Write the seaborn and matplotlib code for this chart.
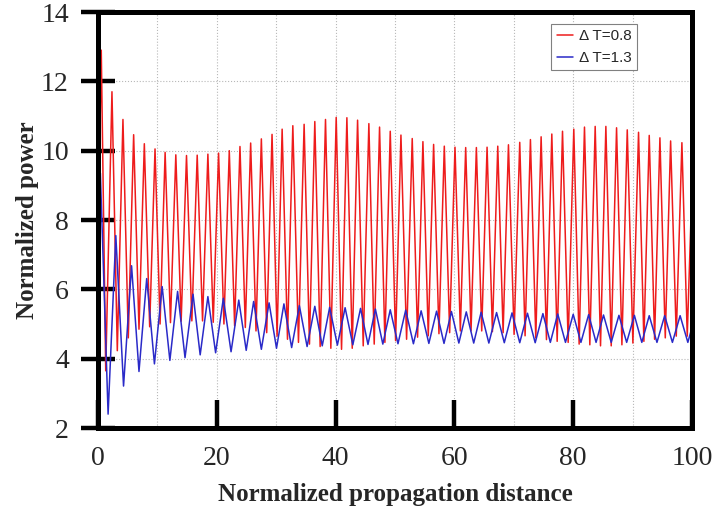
import matplotlib
matplotlib.use("Agg")
import matplotlib.pyplot as plt
from matplotlib.ticker import MultipleLocator
import seaborn as sns
import pandas as pd

# ---- data (extrema of each oscillation) ----
red_x = [0, 0.55, 1.3, 2.35, 3.25, 4.2, 5.1, 6.0, 6.9, 7.8, 8.7, 9.6, 10.45, 11.3, 12.2, 13.1,
         14.0, 14.9, 15.8, 16.7, 17.6, 18.5, 19.4, 20.3, 21.2, 22.1, 23.0, 23.9, 24.8, 25.7,
         26.6, 27.5, 28.4, 29.3, 30.15, 31.0, 31.9, 32.8, 33.75, 34.7, 35.6, 36.5, 37.4, 38.3,
         39.2, 40.1, 41.0, 41.9, 42.8, 43.7, 44.65, 45.6, 46.5, 47.4, 48.3, 49.2, 50.1, 51.0,
         51.95, 52.9, 53.8, 54.7, 55.6, 56.5, 57.4, 58.3, 59.2, 60.1, 61.0, 61.9, 62.8, 63.7,
         64.6, 65.5, 66.4, 67.3, 68.2, 69.1, 70.05, 71.0, 71.9, 72.8, 73.7, 74.6, 75.5, 76.4,
         77.3, 78.2, 79.15, 80.1, 81.0, 81.9, 82.8, 83.7, 84.6, 85.5, 86.4, 87.3, 88.2, 89.1,
         90.05, 91.0, 91.9, 92.8, 93.7, 94.6, 95.5, 96.4, 97.35, 98.3, 99.2, 100]
red_y = [7.0, 12.9, 3.65, 11.7, 4.23, 10.9, 4.6, 10.46, 4.85, 10.2, 4.92, 10.05, 5.0, 9.95, 5.04, 9.88,
         5.08, 9.86, 5.09, 9.87, 5.09, 9.9, 5.05, 9.93, 5.0, 10.0, 4.95, 10.12, 4.9, 10.22,
         4.8, 10.34, 4.75, 10.47, 4.65, 10.62, 4.56, 10.72, 4.47, 10.76, 4.42, 10.84, 4.35, 10.9,
         4.3, 10.96, 4.27, 10.95, 4.3, 10.88, 4.37, 10.78, 4.42, 10.68, 4.47, 10.56, 4.52, 10.45,
         4.56, 10.35, 4.62, 10.26, 4.66, 10.18, 4.72, 10.13, 4.75, 10.1, 4.8, 10.09, 4.8, 10.09,
         4.8, 10.1, 4.78, 10.13, 4.75, 10.17, 4.7, 10.24, 4.66, 10.32, 4.6, 10.4, 4.55, 10.48,
         4.5, 10.56, 4.47, 10.62, 4.42, 10.68, 4.4, 10.7, 4.37, 10.7, 4.37, 10.66, 4.4, 10.6,
         4.45, 10.53, 4.5, 10.44, 4.56, 10.37, 4.6, 10.28, 4.65, 10.23, 4.65, 9.0]

blue_x = [0, 0.4, 1.7, 3.0, 4.3, 5.65, 6.9, 8.2, 9.5, 10.8, 12.1, 13.4, 14.65, 16.0, 17.2, 18.5,
          19.8, 21.1, 22.4, 23.7, 24.95, 26.2, 27.5, 28.8, 30.05, 31.3, 32.6, 33.9, 35.2, 36.5,
          37.75, 39.0, 40.3, 41.6, 42.9, 44.2, 45.45, 46.7, 47.95, 49.2, 50.5, 51.8, 53.1, 54.4,
          55.7, 57.0, 58.25, 59.5, 60.75, 62.0, 63.25, 64.5, 65.8, 67.1, 68.4, 69.7, 71.0, 72.3,
          73.6, 74.9, 76.15, 77.4, 78.7, 80.0, 81.3, 82.6, 83.85, 85.1, 86.4, 87.7, 89.0, 90.3,
          91.55, 92.8, 94.1, 95.4, 96.7, 98.0, 99.3, 100]
blue_y = [6.0, 9.35, 2.4, 7.55, 3.21, 6.68, 3.63, 6.31, 3.85, 6.08, 3.95, 5.94, 4.03, 5.86, 4.11, 5.79,
          4.17, 5.74, 4.2, 5.69, 4.24, 5.65, 4.27, 5.61, 4.3, 5.58, 4.32, 5.53, 4.35, 5.51,
          4.37, 5.48, 4.39, 5.47, 4.4, 5.45, 4.41, 5.43, 4.42, 5.41, 4.43, 5.4, 4.43, 5.38,
          4.44, 5.37, 4.44, 5.36, 4.45, 5.35, 4.45, 5.34, 4.45, 5.33, 4.46, 5.32, 4.46, 5.31,
          4.46, 5.3, 4.47, 5.29, 4.47, 5.28, 4.47, 5.27, 4.47, 5.26, 4.47, 5.25, 4.47, 5.25,
          4.47, 5.24, 4.47, 5.24, 4.47, 5.24, 4.47, 4.9]

series_labels = ["\u0394 T=0.8", "\u0394 T=1.3"]
series_colors = ["#ee1c1c", "#2a2ac8"]
x_ticks = [0, 20, 40, 60, 80, 100]
y_ticks = [2, 4, 6, 8, 10, 12, 14]

df = pd.concat([
    pd.DataFrame({"distance": red_x, "power": red_y, "series": series_labels[0]}),
    pd.DataFrame({"distance": blue_x, "power": blue_y, "series": series_labels[1]}),
], ignore_index=True)

sns.set_theme(style="white")
plt.rcParams["font.family"] = ["Liberation Serif", "DejaVu Serif"]

fig = plt.figure(figsize=(7.2, 5.07), dpi=100)
ax = fig.add_axes([98 / 720, 1 - 428 / 507, (692 - 98) / 720, (428 - 12) / 507])

sns.lineplot(data=df, x="distance", y="power", hue="series",
             palette=dict(zip(series_labels, series_colors)),
             estimator=None, sort=False, linewidth=1.1, ax=ax)

ax.set_xlim(0, 100)
ax.set_ylim(2, 14)
ax.set_xticks(x_ticks)
ax.set_yticks(y_ticks)
ax.xaxis.set_minor_locator(MultipleLocator(10))
ax.grid(True, which="both", axis="x", linestyle=":", color="#b8b8b8", linewidth=0.8)
ax.grid(True, which="major", axis="y", linestyle=":", color="#b8b8b8", linewidth=0.8)
ax.set_axisbelow(True)

for s in ax.spines.values():
    s.set_visible(True)
    s.set_color("black")
    s.set_linewidth(3.6)

ax.tick_params(axis="x", which="major", direction="in", length=20, width=3.2,
               color="black", labelsize=20, pad=13, bottom=True)
ax.tick_params(axis="x", which="minor", length=0)
ax.tick_params(axis="y", which="major", direction="inout", length=24, width=3.2,
               color="black", labelsize=20, pad=9, left=True)
for lab in ax.get_xticklabels() + ax.get_yticklabels():
    lab.set_fontfamily(["Liberation Serif", "DejaVu Serif"])

ax.set_xlabel("Normalized propagation distance", fontsize=18, fontweight="bold",
              family=["Liberation Serif", "DejaVu Serif"])
ax.set_ylabel("Normalized power", fontsize=18, fontweight="bold",
              family=["Liberation Serif", "DejaVu Serif"])
ax.xaxis.set_label_coords(0.5, -0.132)
ax.yaxis.set_label_coords(-0.10, 0.5)

leg = ax.legend(loc="upper right", bbox_to_anchor=(0.907, 0.971), frameon=True,
                fancybox=False, edgecolor="#808080", framealpha=1,
                prop={"family": ["Liberation Sans", "DejaVu Sans"], "size": 11},
                handlelength=1.1, handletextpad=0.35, borderpad=0.35, labelspacing=0.5,
                borderaxespad=0)
leg.get_frame().set_linewidth(0.8)
leg.set_title(None)

fig.savefig("out.png", dpi=100)
